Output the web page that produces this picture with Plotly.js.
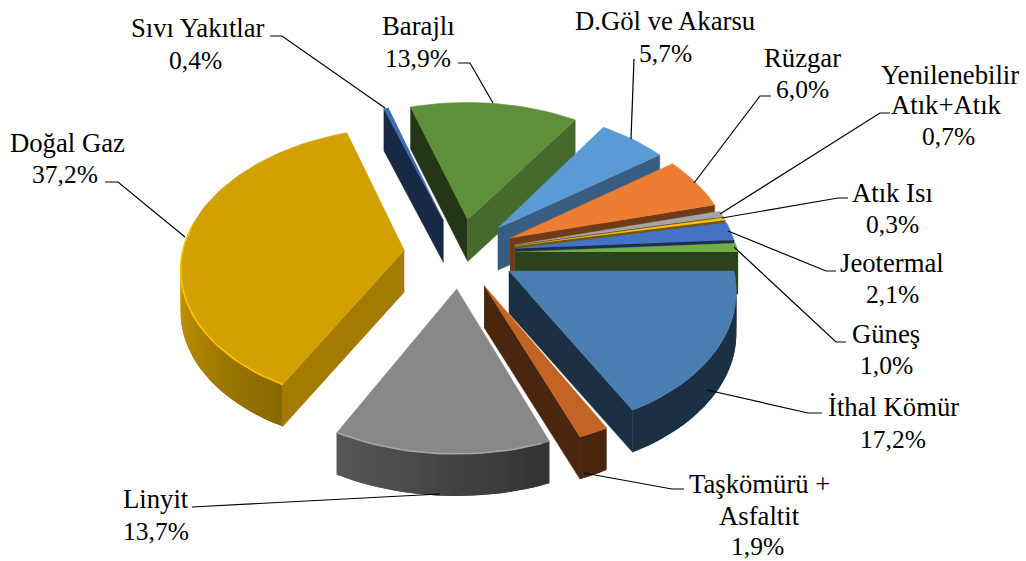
<!DOCTYPE html>
<html><head><meta charset="utf-8">
<script src="https://cdn.plot.ly/plotly-3.0.1.min.js"></script>
<style>html,body{margin:0;padding:0;background:#fff}#c{width:1026px;height:561px}</style>
</head><body><div id="c"></div>
<script>
const categories=["İthal Kömür","Taşkömürü + Asfaltit","Linyit","Doğal Gaz","Sıvı Yakıtlar","Barajlı","D.Göl ve Akarsu","Rüzgar","Yenilenebilir Atık+Atık","Atık Isı","Jeotermal","Güneş"];
const values=[17.2,1.9,13.7,37.2,0.4,13.9,5.7,6.0,0.7,0.3,2.1,1.0];
const colours=["#4A7EB3","#C46424","#888888","#D2A000","#3F6BB5","#5E8F3A","#5B9BD5","#ED7D31","#A5A5A5","#FFC000","#4472C4","#70AD47"];
const labelLines=[
 [["İthal Kömür",893,407],["17,2%",893,439]],
 [["Taşkömürü +",759,484],["Asfaltit",759,516],["1,9%",757,546]],
 [["Linyit",156,499],["13,7%",156,531]],
 [["Doğal Gaz",67,143],["37,2%",65,174]],
 [["Sıvı Yakıtlar",198,28],["0,4%",195,60]],
 [["Barajlı",418,26],["13,9%",418,58]],
 [["D.Göl ve Akarsu",665,21],["5,7%",665,53]],
 [["Rüzgar",802,58],["6,0%",802,89]],
 [["Yenilenebilir",950,75],["Atık+Atık",946,105],["0,7%",948,136]],
 [["Atık Isı",892,193],["0,3%",892,224]],
 [["Jeotermal",892,263],["2,1%",892,294]],
 [["Güneş",886,334],["1,0%",886,365]]
];
const leaders=[
 [[707,390],[808,413],[822,413]],
 [[584,473],[672,489],[684,489]],
 [[440,494],[205,507],[192,507]],
 [[185,237],[118,182],[105,182]],
 [[385,108],[282,36],[270,36]],
 [[493,103],[470,63],[458,63]],
 [[631,139],[634,59]],
 [[694,183],[760,96],[771,96]],
 [[720,214],[880,113],[890,113]],
 [[722,218],[838,198],[848,198]],
 [[728,231],[826,271],[836,271]],
 [[734,247],[836,342],[846,342]]
];
// projection
const CX=460,CY=253,R=222,K=0.62,DEPTH=42,EXPLODE=56,CAM=1950;
function proj(X,Y,Z){const s=1/(1-Y/CAM);return [CX+s*X,CY+s*K*Y+Z];}
function shade(hex,f){const n=parseInt(hex.slice(1),16);
 const c=[n>>16,(n>>8)&255,n&255].map(v=>Math.round(Math.min(255,v*f)));
 return `rgb(${c[0]},${c[1]},${c[2]})`;}
function arcShade(t){t=(t+360)%360; if(t<70||t>300) return 0.38; return Math.min(0.98,0.38+(t-70)*0.0055);}
function faceShade(n){n=(n+360)%360; return n>=90?0.38:0.38+(90-n)*0.0063;}
const rad=d=>d*Math.PI/180;
const total=values.reduce((a,b)=>a+b,0);
let cum=0;
const slices=values.map((v,i)=>{const a0=cum/total*360;cum+=v;const a1=cum/total*360;return {i,a0,a1,mid:(a0+a1)/2};});
const order=[...slices].sort((p,q)=>Math.sin(rad(p.mid))-Math.sin(rad(q.mid)));
const traces=[];
function poly(pts,col,noLine){
 traces.push({type:"scatter",mode:noLine?"none":"lines",x:pts.map(p=>p[0]),y:pts.map(p=>p[1]),fill:"toself",fillcolor:col,line:{color:col,width:0.5},hoverinfo:"skip",showlegend:false});
}
order.forEach(s=>{
 const ox=EXPLODE*Math.cos(rad(s.mid)),oy=EXPLODE*Math.sin(rad(s.mid));
 const P=(t,r,z)=>proj(ox+r*Math.cos(rad(t)),oy+r*Math.sin(rad(t)),z);
 const col=colours[s.i];
 const n=Math.max(2,Math.ceil((s.a1-s.a0)/2));
 const arcT=[];for(let j=0;j<=n;j++)arcT.push(s.a0+(s.a1-s.a0)*j/n);
 // straight cut faces, only those turned to the viewer
 if(Math.sin(rad(s.a0-90))>0) poly([P(0,0,0),P(s.a0,R,0),P(s.a0,R,DEPTH),P(0,0,DEPTH)],shade(col,faceShade(s.a0-90)));
 if(Math.sin(rad(s.a1+90))>0) poly([P(0,0,0),P(s.a1,R,0),P(s.a1,R,DEPTH),P(0,0,DEPTH)],shade(col,faceShade(s.a1+90)));
 // curved face, overlapping strips for a smooth ramp
 for(let j=0;j<n;j++){
  if(Math.sin(rad(arcT[j]))<-0.05 && Math.sin(rad(arcT[j+1]))<-0.05) continue;
  const m=[];for(let q=j;q<=Math.min(j+2,n);q++)m.push(arcT[q]);
  poly([...m.map(t=>P(t,R,0)),...m.slice().reverse().map(t=>P(t,R,DEPTH))],shade(col,arcShade((arcT[j]+arcT[j+1])/2)),true);
 }
 // top face
 poly([P(0,0,0),...arcT.map(t=>P(t,R,0))],col);
 // highlight along the front rim
 const rim=arcT.filter(t=>t>=69&&t<=190);
 if(rim.length>1){const pts=rim.map(t=>P(t,R,0));
  traces.push({type:"scatter",mode:"lines",x:pts.map(p=>p[0]),y:pts.map(p=>p[1]),line:{color:shade(col,1.22),width:1.6},hoverinfo:"skip",showlegend:false});}
});
leaders.forEach(l=>traces.push({type:"scatter",mode:"lines",x:l.map(p=>p[0]),y:l.map(p=>p[1]),line:{color:"#000",width:1.2},hoverinfo:"skip",showlegend:false}));
const annotations=[];
labelLines.forEach(ls=>ls.forEach(([t,x,y])=>annotations.push({x,y,xref:"x",yref:"y",text:t,showarrow:false,xanchor:"center",yanchor:"middle",font:{family:"Liberation Serif",size:/%$/.test(t)?25.5:26.7,color:"#000"}})));
const axis={visible:false,fixedrange:true};
Plotly.newPlot("c",traces,{width:1026,height:561,margin:{l:0,r:0,t:0,b:0},paper_bgcolor:"#fff",plot_bgcolor:"#fff",showlegend:false,
 xaxis:{...axis,range:[0,1026]},yaxis:{...axis,range:[561,0]},annotations},{displayModeBar:false,staticPlot:true});
</script></body></html>
